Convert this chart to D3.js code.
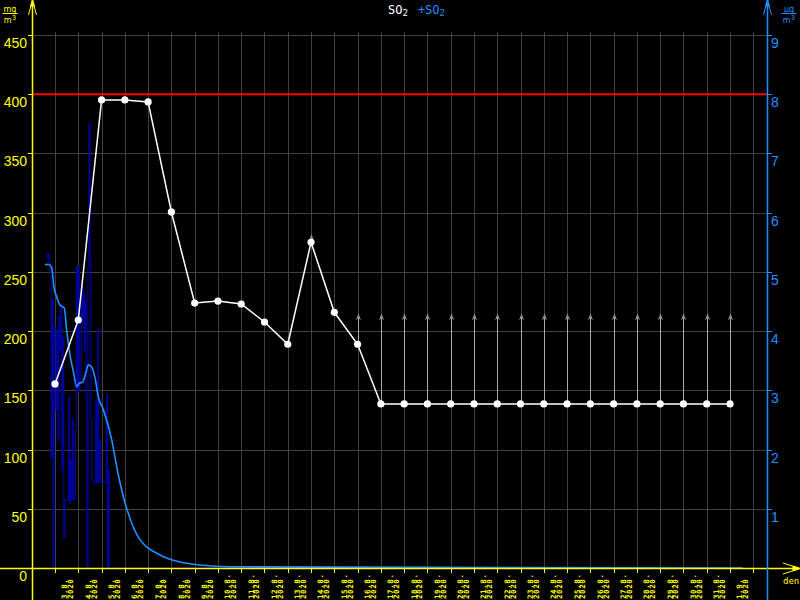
<!DOCTYPE html>
<html><head><meta charset="utf-8">
<script src="https://cdn.jsdelivr.net/npm/d3@7"></script>
<style>body{margin:0;background:#000}svg{display:block}</style>
</head><body><svg id="c" width="800" height="600"></svg>
<script>
// ---------- data ----------
const dayLabels = ["3.8.","4.8.","5.8.","6.8.","7.8.","8.8.","9.8.","10.8.","11.8.","12.8.","13.8.","14.8.","15.8.","16.8.","17.8.","18.8.","19.8.","20.8.","21.8.","22.8.","23.8.","24.8.","25.8.","26.8.","27.8.","28.8.","29.8.","30.8.","31.8.","1.9."];
const yearLabel = "2020";
// daily SO2 (left axis, mg/m3)
const so2Daily = [155.4,209.4,395.2,395.2,393.5,300.6,223.7,225.4,222.9,207.7,188.9,275,215.9,188.9,138.5,138.5,138.5,138.5,138.5,138.5,138.5,138.5,138.5,138.5,138.5,138.5,138.5,138.5,138.5,138.5];
// upward "at least" arrows: day index and arrow tip value
const arrowDay = [11,13,14,15,16,17,18,19,20,21,22,23,24,25,26,27,28,29];
const arrowTop = [282,215,215,215,215,215,215,215,215,215,215,215,215,215,215,215,215,215];
const limitValue = 400;
// hourly +SO2 (right axis), starting 9 hours before first day tick
const hourlyStartH = -9;
const hourly = [5.30,5.23,5.30,5.20,5.03,1.86,4.53,0,4.07,3.85,2.67,4.02,2.16,4.24,3.68,4.44,1.65,3.90,0.51,1.15,1.15,1.15,1.15,2.89,1.10,1.82,1.15,2.50,1.15,1.15,2.33,5.08,2.96,5.08,3.01,3.17,4.81,4.14,4.69,3.68,4.53,2.84,0,5.08,7.51,5.20,2.50,1.49,1.45,1.45,1.45,2.84,1.45,4.02,1.45,2.16,1.45,1.45,1.45,1.45,1.45,1.45,2.92,0,1.65,0,0];
// smoothed +SO2 (right axis): day offsets and values
const smoothDay = [-0.43,-0.29,-0.14,-0.04,0.07,0.21,0.40,0.50,0.61,0.79,0.93,1.04,1.19,1.33,1.43,1.58,1.72,1.86,2.08,2.44,2.68,2.94,3.22,3.58,4.51,5.37,6.23,7.52,29.55];
const smoothVal = [5.12,5.13,5.07,4.73,4.58,4.44,4.39,4.02,3.68,3.31,3.06,3.12,3.14,3.31,3.43,3.39,3.21,2.89,2.67,2.16,1.65,1.20,0.84,0.52,0.22,0.10,0.05,0.02,0];
const leftTicks = [0,50,100,150,200,250,300,350,400,450];
const rightTicks = [1,2,3,4,5,6,7,8,9];
const dataEndDay = 29.55;

// ---------- chart ----------
const YEL = "#ffff00", BLUE = "#1e90ff", NAVY = "#00009a", GRID = "#404040";
const svg = d3.select("#c");
svg.append("rect").attr("width",800).attr("height",600).attr("fill","#000");
const axL = 32, axR = 767, y0 = 568;
const x = d3.scaleLinear().domain([0,30]).range([55,753.3]);
const yL = d3.scaleLinear().domain([0,450]).range([y0,35]);
const yR = d3.scaleLinear().domain([0,9]).range([y0,35]);
const dayIdx = d3.range(31);

// grid
const g = svg.append("g");
g.selectAll(".vg").data(dayIdx).join("line")
  .attr("x1",d=>Math.round(x(d))+0.5).attr("x2",d=>Math.round(x(d))+0.5).attr("y1",32).attr("y2",y0)
  .attr("stroke",GRID);
g.selectAll(".hg").data(leftTicks.filter(d=>d>0)).join("line")
  .attr("x1",axL).attr("x2",axR).attr("y1",d=>Math.round(yL(d))+0.5).attr("y2",d=>Math.round(yL(d))+0.5)
  .attr("stroke",GRID);

// hourly dark blue step line
const hourlyPts = hourly.map((v,i)=>[ (hourlyStartH+i)/24, v ]);
hourlyPts.push([dataEndDay,0]);
svg.append("path").datum(hourlyPts)
  .attr("d", d3.line().x(d=>x(d[0])).y(d=>yR(d[1])).curve(d3.curveStepAfter))
  .attr("fill","none").attr("stroke",NAVY).attr("stroke-width",1.2);

// smooth light blue
const smoothPts = smoothDay.map((d,i)=>[d, smoothVal[i]]);
svg.append("path").datum(smoothPts)
  .attr("d", d3.line().x(d=>x(d[0])).y(d=>yR(d[1])).curve(d3.curveMonotoneX))
  .attr("fill","none").attr("stroke",BLUE).attr("stroke-width",1.6);

// limit line
svg.append("line").attr("x1",axL).attr("x2",axR)
  .attr("y1",yL(limitValue)).attr("y2",yL(limitValue))
  .attr("stroke","#ff0000").attr("stroke-width",2);

// arrows
const ag = svg.append("g");
arrowDay.forEach((d,i)=>{
  const xx = Math.round(x(d))+0.5, yb = yL(so2Daily[d]), yt = yL(arrowTop[i]);
  ag.append("line").attr("x1",xx).attr("x2",xx).attr("y1",yb).attr("y2",yt+2)
    .attr("stroke","#a8a8a8").attr("stroke-width",1);
  ag.append("path").attr("d",`M${xx},${yt} L${xx+2.5},${yt+7} L${xx},${yt+5} L${xx-2.5},${yt+7} Z`)
    .attr("fill","#909090");
});

// daily white line & points
svg.append("path").datum(so2Daily)
  .attr("d", d3.line().x((d,i)=>x(i)).y(d=>yL(d)))
  .attr("fill","none").attr("stroke","#fff").attr("stroke-width",1.5);
svg.selectAll(".pt").data(so2Daily).join("circle")
  .attr("cx",(d,i)=>x(i)).attr("cy",d=>yL(d)).attr("r",3.6).attr("fill","#fff");

// axes
const ax = svg.append("g");
ax.append("line").attr("x1",0).attr("x2",796).attr("y1",y0+0.5).attr("y2",y0+0.5).attr("stroke",YEL).attr("stroke-width",1.5);
ax.append("line").attr("x1",axL+0.5).attr("x2",axL+0.5).attr("y1",0).attr("y2",600).attr("stroke",YEL).attr("stroke-width",1.5);
ax.append("line").attr("x1",axR+0.5).attr("x2",axR+0.5).attr("y1",0).attr("y2",600).attr("stroke",BLUE).attr("stroke-width",1.5);
// arrows on axes
ax.append("path").attr("d",`M${axL-3.5},15 L${axL+0.5},0 L${axL+4.5},15`).attr("fill","none").attr("stroke",YEL);
ax.append("path").attr("d",`M${axL-1.5},6 L${axL+0.5},0 L${axL+2.5},6 Z`).attr("fill",YEL).attr("stroke",YEL);
ax.append("path").attr("d",`M${axR-3.5},15 L${axR+0.5},0 L${axR+4.5},15`).attr("fill","none").attr("stroke",BLUE);
ax.append("path").attr("d",`M${axR-1.5},6 L${axR+0.5},0 L${axR+2.5},6 Z`).attr("fill",BLUE).attr("stroke",BLUE);
ax.append("path").attr("d",`M783,563 L800,${y0+0.5} L783,574`).attr("fill","none").attr("stroke",YEL);
ax.append("path").attr("d",`M793,566 L800,${y0+0.5} L793,571 Z`).attr("fill",YEL).attr("stroke",YEL);

// left ticks & labels
const lg = ax.selectAll(".lt").data(leftTicks).join("g");
lg.append("line").attr("x1",28).attr("x2",axL).attr("y1",d=>Math.round(yL(d))+0.5).attr("y2",d=>Math.round(yL(d))+0.5).attr("stroke",YEL);
lg.append("text").attr("x",27).attr("y",d=>yL(d)+13).attr("text-anchor","end")
  .attr("fill",YEL).attr("font-family","Liberation Sans, Arial, sans-serif").attr("font-size",14).text(d=>d);
// right ticks & labels
const rg = ax.selectAll(".rt").data(rightTicks).join("g");
rg.append("line").attr("x1",axR).attr("x2",axR+5).attr("y1",d=>Math.round(yR(d))+0.5).attr("y2",d=>Math.round(yR(d))+0.5).attr("stroke",BLUE);
rg.append("text").attr("x",771).attr("y",d=>yR(d)+13).attr("text-anchor","start")
  .attr("fill",BLUE).attr("font-family","Liberation Sans, Arial, sans-serif").attr("font-size",14).text(d=>d);

// x ticks
ax.selectAll(".xt").data(dayIdx).join("line")
  .attr("x1",d=>Math.round(x(d))+0.5).attr("x2",d=>Math.round(x(d))+0.5).attr("y1",y0).attr("y2",y0+5).attr("stroke",YEL);
// x labels (rotated, reading bottom to top)
const xl = ax.selectAll(".xl").data(dayLabels).join("g")
  .attr("transform",(d,i)=>`translate(${x(i+0.5)},599) rotate(-90)`)
  .attr("font-family","DejaVu Sans Mono, monospace").attr("font-size",7.5).attr("font-weight","bold")
  .attr("letter-spacing",0.6).attr("fill",YEL);
xl.append("text").attr("x",0).attr("y",0.8).text(d=>d);
xl.append("text").attr("x",0).attr("y",6.6).text(yearLabel);
ax.append("text").attr("x",783).attr("y",584).attr("fill",YEL)
  .attr("font-family","DejaVu Sans Mono, monospace").attr("font-size",9).text("den");

// unit labels
function unit(cx, top, color, num){
  const u = ax.append("g").attr("fill",color).attr("font-family","DejaVu Sans, sans-serif").attr("font-size",8);
  u.append("text").attr("x",cx).attr("y",top+6).attr("text-anchor","middle").text(num);
  u.append("line").attr("x1",cx-7.5).attr("x2",cx+7.5).attr("y1",top+7.5).attr("y2",top+7.5).attr("stroke",color);
  const t = u.append("text").attr("x",cx).attr("y",top+17).attr("text-anchor","middle");
  t.append("tspan").text("m");
  t.append("tspan").attr("dy",-3).attr("font-size",7).text("3");
}
unit(10,6,YEL,"mg");
unit(789,6,BLUE,"\u00b5g");

// title
const tt = svg.append("text").attr("x",388).attr("y",14)
  .attr("font-family","DejaVu Sans Mono, monospace").attr("font-size",12);
tt.append("tspan").attr("fill","#fff").text("SO");
tt.append("tspan").attr("fill","#fff").attr("font-size",9).attr("dy",2).text("2");
tt.append("tspan").attr("fill",BLUE).attr("dy",-2).attr("dx",10).text("+SO");
tt.append("tspan").attr("fill",BLUE).attr("font-size",9).attr("dy",2).text("2");
</script></body></html>
